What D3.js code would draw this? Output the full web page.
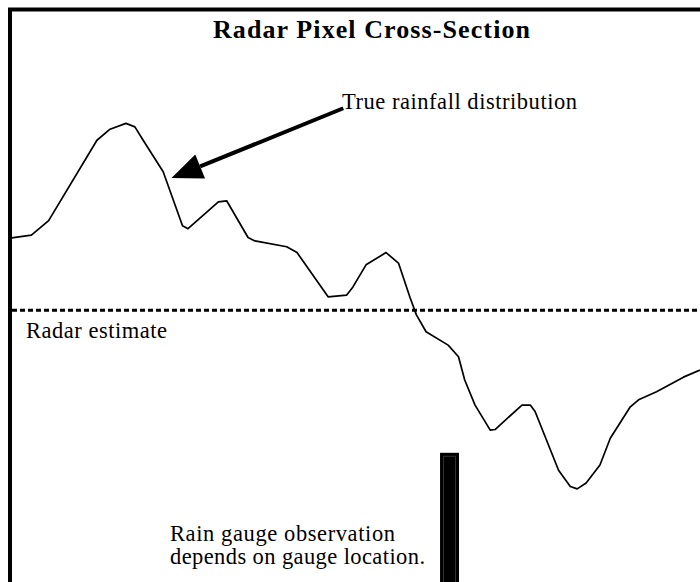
<!DOCTYPE html>
<html>
<head>
<meta charset="utf-8">
<script src="https://cdn.jsdelivr.net/npm/d3@7"></script>
<style>
  body { margin: 0; background: #fff; }
  text { font-family: 'Liberation Serif', 'Times New Roman', serif; fill: #000; }
</style>
</head>
<body>
<div id="chart"></div>
<script>
// position across the radar pixel (0-100) and rainfall (arbitrary units)
var position = [0, 3.1, 5.6, 12.6, 14.5, 16.8, 18.1, 19.3, 22.2, 25.0, 25.8, 30.2, 31.4, 34.5, 35.5,
  40.1, 41.6, 46.1, 48.8, 49.7, 51.6, 54.5, 56.3, 58.0, 58.9, 60.3, 63.5, 65.0, 65.9, 67.4,
  69.6, 70.3, 74.2, 75.4, 76.1, 79.5, 81.2, 82.2, 83.5, 85.5, 87.0, 89.9, 91.1, 93.7, 97.6, 100]
var rainfall = [59.1, 59.6, 62.1, 75.9, 77.8, 78.8, 78.2, 75.9, 70.5, 61.2, 60.7, 65.3, 65.5, 59.2, 58.6,
  57.6, 56.6, 49.0, 49.3, 50.7, 54.5, 56.6, 54.8, 48.8, 45.9, 43.0, 40.7, 38.7, 34.7, 30.4,
  26.1, 26.2, 30.4, 30.4, 29.3, 19.2, 16.4, 16.0, 17.0, 20.1, 24.7, 30.1, 31.3, 32.7, 35.2, 36.4]
var radarEstimate = 46.7
var gaugePosition = 63.7
var gaugeWidth = 2.75
var gaugeValue = 22.2

var width = 700
var height = 582

var x = d3.scaleLinear().domain([0, 100]).range([10, 700])
var y = d3.scaleLinear().domain([0, 100]).range([582, 0])

var svg = d3.select('#chart').append('svg')
  .attr('width', width)
  .attr('height', height)

// frame (top and left only)
svg.append('path')
  .attr('d', 'M10,582 V9.5 H700')
  .attr('fill', 'none')
  .attr('stroke', '#000')
  .attr('stroke-width', 4)

var points = position.map(function (p, i) { return [p, rainfall[i]] })

var line = d3.line()
  .x(function (d) { return x(d[0]) })
  .y(function (d) { return y(d[1]) })

svg.append('path')
  .datum(points)
  .attr('d', line)
  .attr('fill', 'none')
  .attr('stroke', '#000')
  .attr('stroke-width', 1.7)
  .attr('stroke-linejoin', 'round')

// radar estimate (dotted)
svg.append('line')
  .attr('x1', x(0) + 2)
  .attr('x2', x(100))
  .attr('y1', y(radarEstimate))
  .attr('y2', y(radarEstimate))
  .attr('stroke', '#000')
  .attr('stroke-width', 3)
  .attr('stroke-dasharray', '5,3')

// rain gauge bar
svg.append('rect')
  .attr('x', x(gaugePosition - gaugeWidth / 2))
  .attr('y', y(gaugeValue))
  .attr('width', x(gaugeWidth) - x(0))
  .attr('height', y(0) - y(gaugeValue))
  .attr('fill', '#000')
svg.append('rect')
  .attr('x', x(gaugePosition - gaugeWidth / 2) + 3.5)
  .attr('y', y(gaugeValue) + 3.5)
  .attr('width', x(gaugeWidth) - x(0) - 7)
  .attr('height', y(0) - y(gaugeValue))
  .attr('fill', 'none')
  .attr('stroke', '#333')
  .attr('stroke-width', 1)

// arrow to the curve
var from = [x(48.3), y(81.4)]
var tip = [x(23.4), y(69.4)]
var ang = Math.atan2(from[1] - tip[1], from[0] - tip[0])
var headLen = 31
var headHalf = 13
var base = [tip[0] + headLen * Math.cos(ang), tip[1] + headLen * Math.sin(ang)]
svg.append('line')
  .attr('x1', from[0]).attr('y1', from[1])
  .attr('x2', base[0]).attr('y2', base[1])
  .attr('stroke', '#000')
  .attr('stroke-width', 4)
svg.append('path')
  .attr('d', 'M' + tip[0] + ',' + tip[1] +
    'L' + (base[0] - headHalf * Math.sin(ang)) + ',' + (base[1] + headHalf * Math.cos(ang)) +
    'L' + (base[0] + headHalf * Math.sin(ang)) + ',' + (base[1] - headHalf * Math.cos(ang)) + 'Z')
  .attr('fill', '#000')

// texts
svg.append('text')
  .attr('x', 213).attr('y', 38)
  .attr('font-size', 26)
  .attr('font-weight', 'bold')
  .attr('textLength', 317)
  .attr('lengthAdjust', 'spacing')
  .text('Radar Pixel Cross-Section')

svg.append('text')
  .attr('x', 342).attr('y', 108.5)
  .attr('font-size', 22.5)
  .attr('textLength', 235)
  .attr('lengthAdjust', 'spacing')
  .text('True rainfall distribution')

svg.append('text')
  .attr('x', 26).attr('y', 338)
  .attr('font-size', 22.5)
  .attr('textLength', 141)
  .attr('lengthAdjust', 'spacing')
  .text('Radar estimate')

svg.append('text')
  .attr('x', 170).attr('y', 541)
  .attr('font-size', 22.5)
  .attr('textLength', 225)
  .attr('lengthAdjust', 'spacing')
  .text('Rain gauge observation')

svg.append('text')
  .attr('x', 170).attr('y', 564)
  .attr('font-size', 22.5)
  .attr('textLength', 255)
  .attr('lengthAdjust', 'spacing')
  .text('depends on gauge location.')
</script>
</body>
</html>
